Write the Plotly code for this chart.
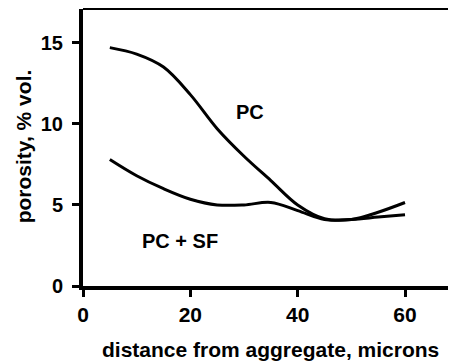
import plotly.graph_objects as go

x_vals = [5, 10, 15, 20, 25, 30, 35, 40, 45, 50, 55, 60]
pc = [14.7, 14.3, 13.5, 11.8, 9.7, 8.0, 6.5, 5.0, 4.15, 4.1, 4.55, 5.15]
pc_sf = [7.8, 6.8, 6.0, 5.35, 5.0, 5.0, 5.15, 4.65, 4.1, 4.1, 4.25, 4.4]
x_ticks = [0, 20, 40, 60]
y_ticks = [0, 5, 10, 15]

FONT = "Liberation Sans, Arial, sans-serif"

fig = go.Figure()
fig.add_trace(go.Scatter(x=x_vals, y=pc, mode="lines", name="PC",
                         line=dict(color="black", width=3, shape="spline", smoothing=1.0)))
fig.add_trace(go.Scatter(x=x_vals, y=pc_sf, mode="lines", name="PC + SF",
                         line=dict(color="black", width=3, shape="spline", smoothing=1.0)))

fig.add_annotation(x=31.1, y=10.7, text="<b>PC</b>", showarrow=False,
                   xanchor="center", yanchor="middle",
                   font=dict(family=FONT, size=20, color="black", weight="bold"))
fig.add_annotation(x=18.1, y=2.8, text="<b>PC + SF</b>", showarrow=False,
                   xanchor="center", yanchor="middle",
                   font=dict(family=FONT, size=20, color="black", weight="bold"))

# axis titles
fig.add_annotation(xref="paper", yref="paper", x=0.504, y=-0.231,
                   xanchor="center", yanchor="middle",
                   text="<b>distance from aggregate, microns</b>", showarrow=False,
                   font=dict(family=FONT, size=21, color="black", weight="bold"))
fig.add_annotation(xref="paper", yref="paper", x=-0.161, y=0.504, textangle=-90,
                   xanchor="center", yanchor="middle",
                   text="<b>porosity, % vol.</b>", showarrow=False,
                   font=dict(family=FONT, size=21, color="black", weight="bold"))

# top border
fig.add_shape(type="line", xref="paper", yref="paper", x0=0, x1=1, y0=1, y1=1,
              line=dict(color="black", width=2))

fig.update_layout(
    width=448, height=355,
    margin=dict(l=75, r=0, t=1, b=77),
    plot_bgcolor="white", paper_bgcolor="white",
    showlegend=False,
    font=dict(family=FONT, size=16, color="black"),
)
fig.update_xaxes(
    range=[0, 69.5], tickvals=x_ticks, ticktext=[f"<b>{v}</b>" for v in x_ticks],
    automargin=False,
    showgrid=False, zeroline=False, showline=True, linecolor="black", linewidth=4,
    ticks="outside", ticklen=7, tickwidth=3, tickcolor="black",
    tickfont=dict(family=FONT, size=21, weight="bold"),
)
fig.update_yaxes(
    range=[0, 17.08], tickvals=y_ticks, ticktext=[f"<b>{v}</b>" for v in y_ticks],
    automargin=False, ticklabelstandoff=5,
    showgrid=False, zeroline=False, showline=True, linecolor="black", linewidth=4,
    ticks="outside", ticklen=7, tickwidth=3, tickcolor="black",
    tickfont=dict(family=FONT, size=20, weight="bold"),
)

fig.write_html("out.html")
